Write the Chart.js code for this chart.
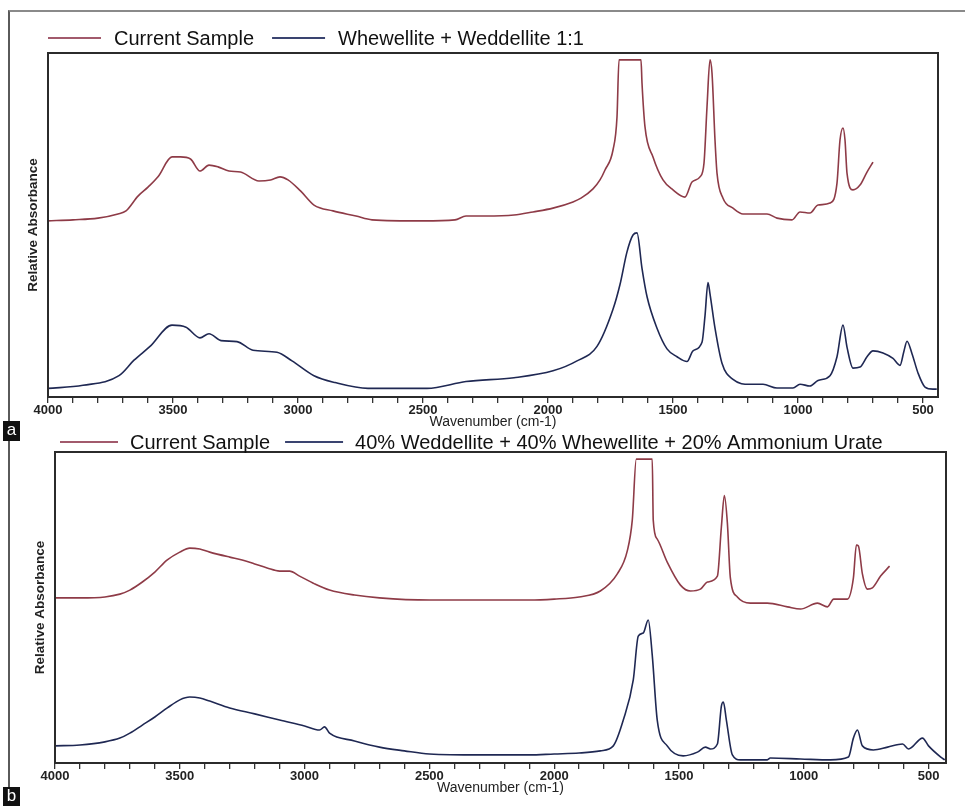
<!DOCTYPE html>
<html>
<head>
<meta charset="utf-8">
<script src="https://cdn.jsdelivr.net/npm/chart.js@4.4.1/dist/chart.umd.min.js"></script>
<style>
  html,body{margin:0;padding:0;background:#fff;}
  body{width:965px;height:806px;position:relative;overflow:hidden;font-family:"Liberation Sans",Arial,sans-serif;}
  .frame{position:absolute;left:8px;top:10px;width:957px;height:780px;border-top:2px solid #8a8a8a;border-left:2px solid #5a5a5a;box-sizing:border-box;}
  canvas{position:absolute;left:0;}
  #chartA{top:0;}
  #chartB{top:435px;}
  .tag{position:absolute;left:3px;width:17px;height:20px;background:#111;color:#fff;font-size:17px;line-height:18px;text-align:center;}
</style>
</head>
<body>
<div class="frame"></div>
<canvas id="chartA" width="965" height="435"></canvas>
<canvas id="chartB" width="965" height="371"></canvas>
<div class="tag" style="top:421px">a</div>
<div class="tag" style="top:787px;height:19px">b</div>
<script>
// panel a: current sample vs whewellite + weddellite 1:1
const aSampleWn = [4000,3900,3800,3720,3688,3640,3600,3560,3504,3470,3430,3392,3356,3320,3276,3230,3156,3110,3072,3040,2990,2936,2860,2768,2704,2500,2372,2328,2250,2136,2060,1980,1900,1868,1820,1792,1772,1740,1724,1716,1628,1624,1612,1580,1540,1500,1452,1424,1392,1376,1364,1352,1344,1332,1324,1300,1260,1220,1124,1084,1024,992,952,920,872,844,832,820,812,804,780,752,724,700];
const aSampleAbs = [51.2,51.5,52.0,53.2,54.1,58.4,61.0,64.0,69.8,69.8,69.2,65.7,67.4,66.9,65.7,65.4,62.8,63.1,64.0,63.1,59.9,55.8,54.1,52.6,51.5,51.2,51.5,52.6,52.6,52.9,53.8,54.9,56.7,57.8,60.5,63.1,66.0,71.8,81.4,98.0,98.0,91.3,78.5,69.8,63.1,60.2,58.1,62.5,64.0,68.0,84.3,98.0,94.2,74.7,65.1,57.8,54.9,53.2,53.2,52.0,51.5,53.8,53.5,55.8,56.4,62.2,74.7,78.2,74.7,65.1,60.2,61.6,65.4,68.3];
const aRefWn = [4000,3860,3716,3656,3592,3504,3448,3392,3356,3308,3244,3180,3084,3024,2936,2852,2720,2484,2328,2136,1980,1884,1804,1740,1712,1684,1660,1644,1624,1604,1564,1524,1484,1444,1420,1384,1372,1360,1352,1332,1304,1260,1192,1140,1084,1020,992,952,920,872,844,820,804,780,752,724,700,660,620,592,576,564,544,520,492,460,445];
const aRefAbs = [2.5,3.4,6.2,10.7,14.7,20.9,20.3,17.2,18.4,16.4,16.1,13.6,13.0,10.5,6.2,4.2,2.5,2.5,4.5,5.6,7.6,10.5,14.7,25.5,32.7,42.2,47.1,47.7,37.4,29.2,20.0,14.0,11.7,10.3,13.4,15.9,23.6,33.3,30.0,20.0,9.8,5.1,3.7,3.7,2.6,2.6,3.7,3.2,4.8,6.2,11.7,20.9,14.5,8.4,8.7,11.7,13.4,12.8,11.2,9.2,13.4,16.2,12.6,7.0,2.9,2.3,2.3];

// panel b: current sample vs 40/40/20 mix
const bSampleWn = [4000,3900,3800,3740,3700,3650,3600,3550,3500,3460,3420,3380,3300,3250,3200,3150,3100,3060,3020,2960,2900,2800,2700,2500,2300,2100,2000,1900,1815,1747,1707,1687,1671,1607,1603,1587,1547,1494,1454,1414,1386,1346,1330,1318,1306,1294,1266,1214,1146,1065,1013,945,905,880,825,801,789,781,765,745,725,692,656];
const bSampleAbs = [53.1,53.1,53.4,54.3,55.6,58.2,61.4,65.3,67.8,69.1,68.8,67.8,66.2,65.3,64.0,62.7,61.7,61.7,60.1,57.6,55.6,54.0,53.1,52.4,52.4,52.4,52.7,53.4,55.3,60.8,68.2,78.1,97.7,97.7,78.1,72.0,64.6,57.2,55.3,55.9,58.2,60.1,75.9,86.0,77.2,59.5,53.4,51.4,51.4,50.2,49.5,51.4,50.2,52.7,52.7,59.5,70.1,69.8,60.8,55.9,56.3,60.1,63.3];
const bRefWn = [4000,3900,3800,3740,3700,3650,3600,3550,3500,3460,3420,3380,3300,3200,3100,3000,2940,2920,2900,2800,2700,2600,2500,2300,2100,2000,1900,1815,1763,1723,1683,1663,1643,1623,1607,1587,1547,1483,1426,1394,1374,1346,1330,1322,1310,1286,1254,1146,1134,1013,893,821,801,785,765,721,664,604,580,524,500,451,435];
const bRefAbs = [5.5,5.8,6.8,8.0,9.6,12.2,14.8,17.7,20.3,21.2,20.9,19.9,17.7,15.8,13.8,11.9,10.6,11.6,9.6,7.1,5.1,3.9,2.9,2.6,2.6,2.9,3.2,3.9,5.5,13.8,26.7,40.8,41.8,46.0,34.7,13.8,5.5,2.3,3.5,5.1,4.5,6.1,18.3,19.6,13.8,2.6,1.0,1.0,1.6,1.3,1.0,1.9,8.0,10.6,5.5,4.2,5.1,6.1,4.5,8.0,5.5,1.9,1.0];

const labeledTicks = [4000,3500,3000,2500,2000,1500,1000,500];
const tickStep = 100;

const SAMPLE_COLOR = '#8e3b47';
const REF_COLOR = '#1f2853';

Chart.defaults.font.family = '"Liberation Sans", Arial, sans-serif';

function toPoints(xs, ys){
  return xs.map((x,i)=>({x:x, y:ys[i]}));
}

// draws the line-style legend row above the plot box
const legendLines = {
  id:'legendLines',
  afterDraw(chart, args, opts){
    const ctx=chart.ctx;
    let x=opts.x;
    ctx.save();
    ctx.font='20px "Liberation Sans", Arial, sans-serif';
    ctx.textBaseline='middle';
    chart.data.datasets.forEach((ds,i)=>{
      ctx.strokeStyle=opts.colors[i];
      ctx.lineWidth=2;
      ctx.beginPath(); ctx.moveTo(x,opts.y); ctx.lineTo(x+opts.lineLen,opts.y); ctx.stroke();
      x+=opts.lineLen+opts.gap;
      ctx.fillStyle='#111';
      ctx.fillText(ds.label,x,opts.y+1);
      x+=ctx.measureText(ds.label).width+opts.after;
    });
    ctx.restore();
  }
};

const plotFrame = {
  id:'plotFrame',
  afterDatasetsDraw(chart){
    const {ctx, chartArea:a}=chart;
    ctx.save();
    ctx.strokeStyle='#2b2b2b';
    ctx.lineWidth=2;
    ctx.strokeRect(a.left,a.top,a.right-a.left,a.bottom-a.top);
    ctx.restore();
  }
};

function makeChart(id, cfg){
  return new Chart(document.getElementById(id),{
    type:'line',
    data:{datasets:[
      {label:'Current Sample', data:toPoints(cfg.sWn,cfg.sAbs), borderColor:SAMPLE_COLOR},
      {label:cfg.refLabel, data:toPoints(cfg.rWn,cfg.rAbs), borderColor:REF_COLOR}
    ]},
    options:{
      responsive:false, animation:false, devicePixelRatio:1,
      layout:{padding:cfg.padding},
      elements:{point:{radius:0}, line:{borderWidth:1.6, cubicInterpolationMode:'monotone'}},
      plugins:{legend:{display:false}, tooltip:{enabled:false}, legendLines:cfg.legend},
      scales:{
        x:{
          type:'linear', reverse:true, min:cfg.xMin, max:4000,
          afterBuildTicks:s=>{
            const t=[];
            for(let v=labeledTicks[0]; v>=s.min; v-=tickStep) t.push({value:v});
            s.ticks=t;
          },
          afterFit:s=>{ s.height=35; },
          ticks:{autoSkip:false, maxRotation:0, padding:0, color:'#222', font:{size:13, weight:'bold'},
            callback:v=>labeledTicks.includes(v)?String(v):''},
          grid:{drawOnChartArea:false, drawTicks:true, tickLength:6, color:'#333', lineWidth:1.3},
          border:{display:false},
          title:{display:true, text:'Wavenumber (cm-1)', color:'#222', font:{size:14}, padding:{top:0,bottom:1}}
        },
        y:{
          min:0, max:100,
          afterFit:s=>{ s.width=cfg.yWidth; },
          ticks:{display:false}, grid:{display:false}, border:{display:false},
          title:{display:true, text:'Relative Absorbance', color:'#222', font:{size:13.5, weight:'bold'}, padding:{top:cfg.yTitlePad,bottom:0}}
        }
      }
    },
    plugins:[legendLines, plotFrame]
  });
}

makeChart('chartA',{
  sWn:aSampleWn, sAbs:aSampleAbs, rWn:aRefWn, rAbs:aRefAbs,
  refLabel:'Whewellite + Weddellite 1:1',
  xMin:440, yWidth:48, yTitlePad:25,
  padding:{top:53, right:27, bottom:3, left:0},
  legend:{x:48, y:38, lineLen:53, gap:13, after:18, colors:['#a25a6c','#3a4470']}
});

makeChart('chartB',{
  sWn:bSampleWn, sAbs:bSampleAbs, rWn:bRefWn, rAbs:bRefAbs,
  refLabel:'40% Weddellite + 40% Whewellite + 20% Ammonium Urate',
  xMin:430, yWidth:55, yTitlePad:32,
  padding:{top:17, right:19, bottom:8, left:0},
  legend:{x:60, y:7, lineLen:58, gap:12, after:15, colors:['#a25a6c','#3a4470']}
});
</script>
</body>
</html>
